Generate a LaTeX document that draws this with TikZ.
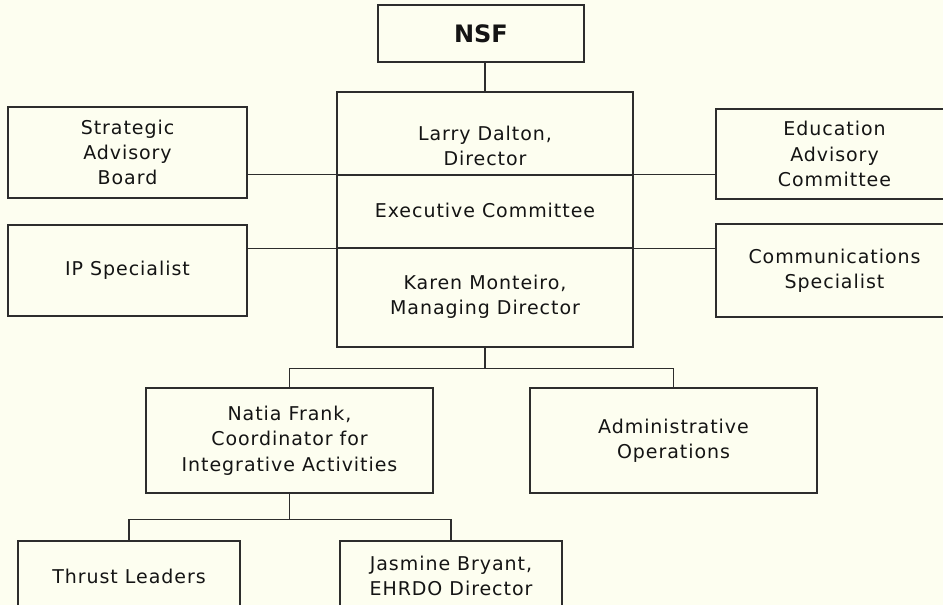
\documentclass[tikz,border=0pt]{standalone}
\usepackage{fontspec}
\setmainfont{DejaVu Sans}[LetterSpace=5]
\newfontfamily\titlefont{DejaVu Sans}
\definecolor{bgc}{RGB}{253,254,240}
\definecolor{linec}{RGB}{45,45,45}
\definecolor{txtc}{RGB}{20,20,20}
\tikzset{
  box/.style={draw=linec, line width=1.3pt, fill=bgc, rectangle, inner sep=0pt,
    align=center, text=txtc, font=\fontsize{19}{25.3}\selectfont},
  lbl/.style={inner sep=0pt, align=center, text=txtc, font=\fontsize{19}{25.3}\selectfont},
  conn/.style={draw=linec, line width=1.3pt},
}
\begin{document}
\begin{tikzpicture}[x=1pt,y=-1pt]
\fill[bgc] (0,0) rectangle (943,605);
\useasboundingbox (0,0) rectangle (943,605);
\clip (0,0) rectangle (943,605);

% top
\node[box, minimum width=206pt, minimum height=57pt, font=\titlefont\bfseries\fontsize{24}{28}\selectfont] (nsf) at (481,33.5) {NSF};

% central box in three parts
\node[box, minimum width=296pt, minimum height=83pt] (dir) at (485,133.5) {};
\node[box, minimum width=296pt, minimum height=73pt] (exec) at (485,211.5) {};
\node[box, minimum width=296pt, minimum height=99pt] (mgr) at (485,297.5) {};
\node[lbl] (dirT) at (485,146) {Larry Dalton,\\Director};
\node[lbl] (execT) at (485,210) {Executive Committee};
\node[lbl] (mgrT) at (485,297) {Karen Monteiro,\\Managing Director};

% side boxes
\node[box, minimum width=239pt, minimum height=91pt] (sab) at (127.5,152.5) {Strategic\\Advisory\\Board};
\node[box, minimum width=239pt, minimum height=91pt] (ip) at (127.5,270.5) {IP Specialist};
\node[box, minimum width=237pt, minimum height=90pt] (eac) at (834.5,154) {Education\\Advisory\\Committee};
\node[box, minimum width=237pt, minimum height=93pt] (comm) at (834.5,270.5) {Communications\\Specialist};

% lower boxes
\node[box, minimum width=287pt, minimum height=105pt] (natia) at (289.5,440.5) {Natia Frank,\\Coordinator for\\Integrative Activities};
\node[box, minimum width=287pt, minimum height=105pt] (admin) at (673.5,440.5) {Administrative\\Operations};
\node[box, minimum width=222pt, minimum height=70pt] (thrust) at (129,576) {Thrust Leaders};
\node[box, minimum width=222pt, minimum height=70pt] (jas) at (451,576) {Jasmine Bryant,\\EHRDO Director};

% connectors
\draw[conn] (nsf.south -| dir.north) -- (dir.north);
\draw[conn] (sab.east |- exec.north) -- (exec.north west);
\draw[conn] (ip.east |- exec.south) -- (exec.south west);
\draw[conn] (eac.west |- exec.north) -- (exec.north east);
\draw[conn] (comm.west |- exec.south) -- (exec.south east);
\draw[conn] (mgr.south) -- ++(0,21) coordinate (j1);
\draw[conn] (natia.north) |- (j1) -| (admin.north);
\draw[conn] (natia.south) -- ++(0,26) coordinate (j2);
\draw[conn] (thrust.north) |- (j2) -| (jas.north);
\end{tikzpicture}
\end{document}
